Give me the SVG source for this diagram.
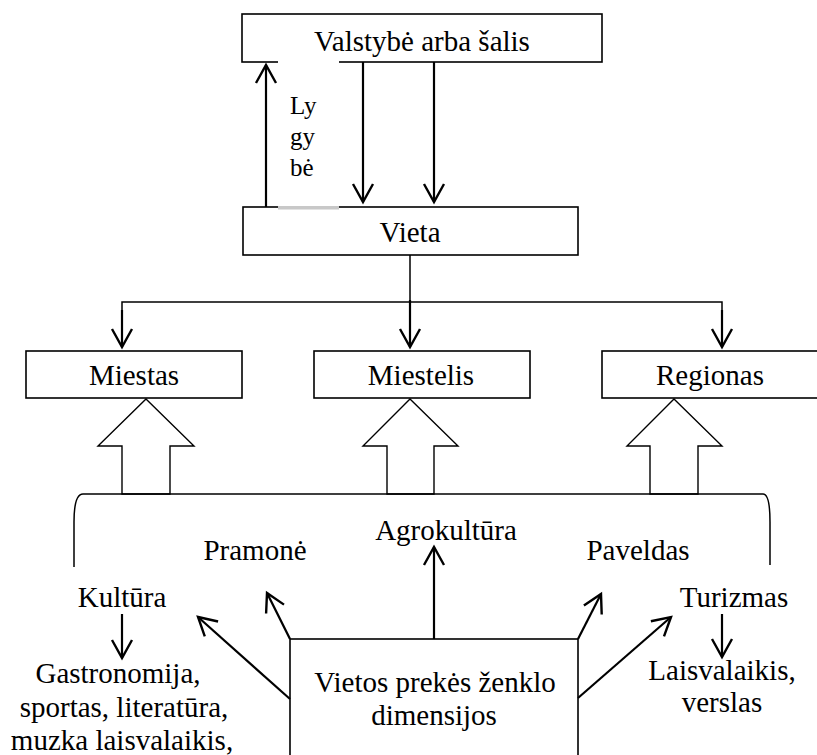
<svg xmlns="http://www.w3.org/2000/svg" width="817" height="755" viewBox="0 0 817 755" font-family="'Liberation Serif', serif">
  <style>
    .box { fill: #ffffff; stroke: #000000; stroke-width: 1.6; }
    .name { font-family: 'Liberation Serif', serif; font-size: 29px; fill: #000000; text-anchor: middle; }
    .side { font-family: 'Liberation Serif', serif; font-size: 25px; fill: #000000; }
    .conn { fill: none; stroke: #000000; stroke-width: 2.2; }
    .thin { fill: none; stroke: #000000; stroke-width: 1.5; }
    .hollow { fill: #ffffff; stroke: #000000; stroke-width: 1.4; stroke-linejoin: miter; }
  </style>
  <defs>
    <marker id="vhead" markerUnits="userSpaceOnUse" markerWidth="26" markerHeight="26" viewBox="-22 -13 26 26" refX="0" refY="0" orient="auto" overflow="visible">
      <path d="M -18 -10 L 0 0 L -18 10" fill="none" stroke="#000000" stroke-width="2.4" stroke-linejoin="miter"/>
    </marker>
  </defs>
  <rect width="817" height="755" fill="#ffffff"/>

  <!-- top level -->
  <g id="node-valstybe">
    <rect class="box" x="242" y="14" width="360" height="48"/>
    <text class="name" x="422" y="51">Valstybė arba šalis</text>
  </g>

  <g id="node-vieta">
    <rect class="box" x="243" y="207" width="335" height="48"/>
    <text class="name" x="410" y="242">Vieta</text>
  </g>

  <!-- label strip between the two upper boxes -->
  <g id="node-lygybe">
    <rect x="278" y="61" width="61" height="146" fill="#ffffff"/>
    <rect x="278" y="206" width="61" height="3.5" fill="#c8c8c8"/>
    <text class="side" x="290" y="114">Ly</text>
    <text class="side" x="290" y="145">gy</text>
    <text class="side" x="290" y="176">bė</text>
  </g>

  <g id="node-miestas">
    <rect class="box" x="26" y="351" width="216" height="47"/>
    <text class="name" x="134" y="385">Miestas</text>
  </g>
  <g id="node-miestelis">
    <rect class="box" x="314" y="351" width="216" height="47"/>
    <text class="name" x="421" y="385">Miestelis</text>
  </g>
  <g id="node-regionas">
    <rect class="box" x="602" y="351" width="220" height="47"/>
    <text class="name" x="710" y="385">Regionas</text>
  </g>

  <g id="node-dimensijos">
    <rect class="box" x="290" y="639" width="288" height="130"/>
    <text class="name" x="435" y="692">Vietos prekės ženklo</text>
    <text class="name" x="434" y="725">dimensijos</text>
  </g>

  <g id="node-pramone"><text class="name" x="255" y="560">Pramonė</text></g>
  <g id="node-agrokultura"><text class="name" x="446" y="540">Agrokultūra</text></g>
  <g id="node-paveldas"><text class="name" x="638" y="560">Paveldas</text></g>
  <g id="node-kultura"><text class="name" x="122" y="607">Kultūra</text></g>
  <g id="node-turizmas"><text class="name" x="734" y="607">Turizmas</text></g>
  <g id="node-kultura-items">
    <text class="name" x="118" y="683">Gastronomija,</text>
    <text class="name" x="124" y="717">sportas, literatūra,</text>
    <text class="name" x="122" y="750">muzka laisvalaikis,</text>
  </g>
  <g id="node-turizmas-items">
    <text class="name" x="722" y="680">Laisvalaikis,</text>
    <text class="name" x="722" y="712">verslas</text>
  </g>

  <g id="connectors">
    <!-- between state and place -->
    <line class="conn" x1="266" y1="207" x2="266" y2="65" marker-end="url(#vhead)"/>
    <line class="conn" x1="363" y1="62" x2="363" y2="202" marker-end="url(#vhead)"/>
    <line class="conn" x1="434" y1="62" x2="434" y2="202" marker-end="url(#vhead)"/>

    <!-- place to its three kinds -->
    <polyline class="thin" points="410,255 410,302"/>
    <polyline class="thin" points="122,346 122,302 722,302 722,346"/>
    <line class="conn" x1="122" y1="310" x2="122" y2="347" marker-end="url(#vhead)"/>
    <line class="conn" x1="410" y1="300" x2="410" y2="347" marker-end="url(#vhead)"/>
    <line class="conn" x1="722" y1="310" x2="722" y2="347" marker-end="url(#vhead)"/>

    <!-- block arrows from the bracket -->
    <polygon class="hollow" points="146,399 194,446 170,446 170,494 122,494 122,446 98,446"/>
    <polygon class="hollow" points="410,399 458,446 434,446 434,494 387,494 387,446 363,446"/>
    <polygon class="hollow" points="674,399 722,446 698,446 698,494 650,494 650,446 627,446"/>

    <!-- bracket -->
    <path class="thin" d="M 74 567 L 74 522 C 74 505 76 494 83 494 L 763 494 C 768 494 770 505 770 522 L 770 565"/>

    <!-- dimensions -->
    <line class="conn" x1="434" y1="639" x2="434" y2="547" marker-end="url(#vhead)"/>
    <line class="conn" x1="290" y1="639" x2="267" y2="593" marker-end="url(#vhead)"/>
    <line class="conn" x1="290" y1="699" x2="198" y2="617" marker-end="url(#vhead)"/>
    <line class="conn" x1="578" y1="639" x2="601" y2="594" marker-end="url(#vhead)"/>
    <line class="conn" x1="578" y1="698" x2="671" y2="617" marker-end="url(#vhead)"/>
    <line class="conn" x1="122" y1="614" x2="122" y2="658" marker-end="url(#vhead)"/>
    <line class="conn" x1="722" y1="614" x2="722" y2="657" marker-end="url(#vhead)"/>
  </g>
</svg>
